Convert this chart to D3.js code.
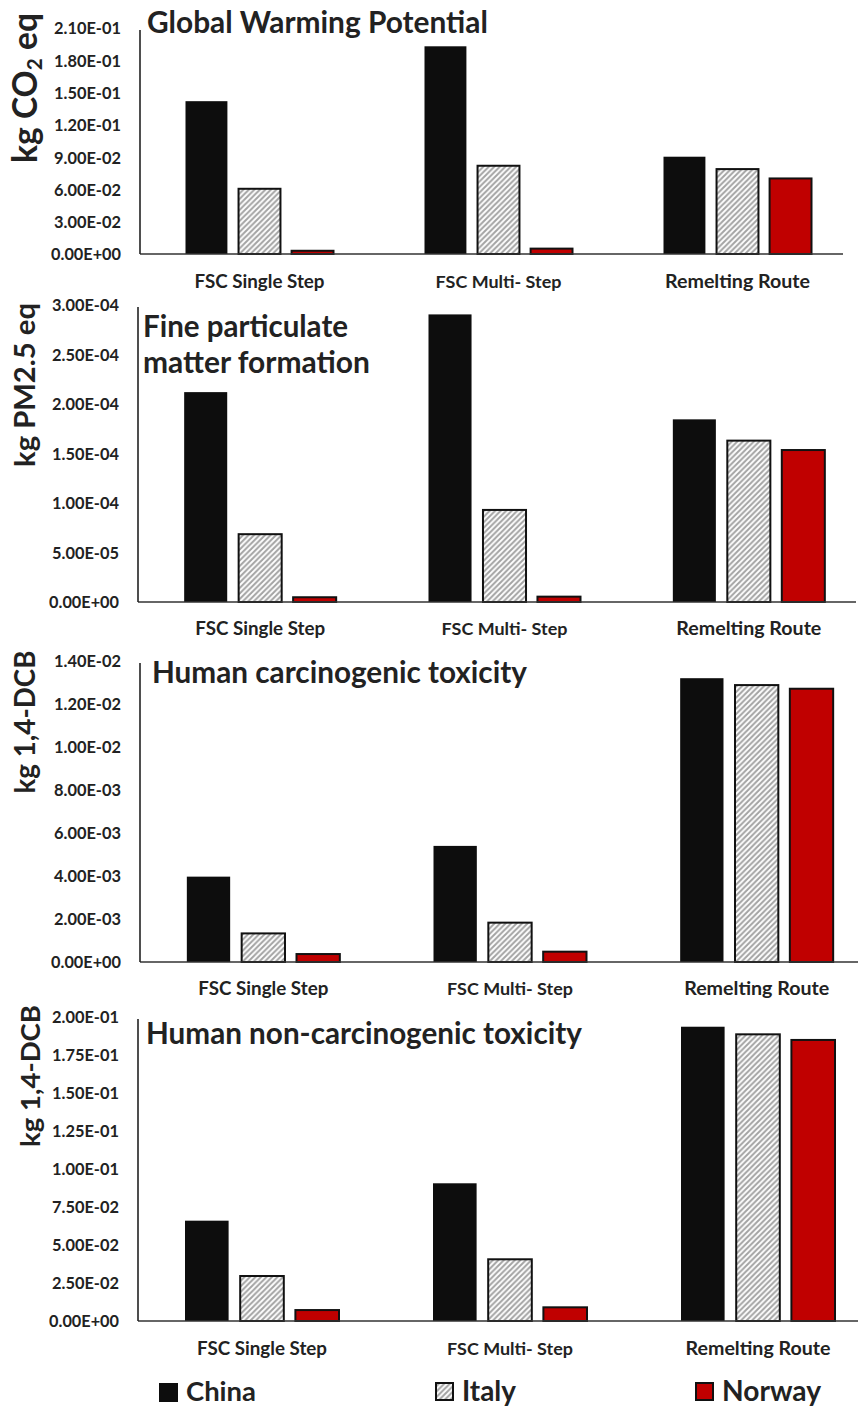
<!DOCTYPE html>
<html><head><meta charset="utf-8">
<script src="https://cdn.jsdelivr.net/npm/d3@7"></script>
<style>html,body{margin:0;padding:0;background:#fff;}svg{display:block;}</style>
</head><body>
<svg id="c" width="858" height="1408"></svg>
<script>
// ---------- data ----------
const categories = ["FSC Single Step", "FSC Multi- Step", "Remelting Route"];
const countries = ["China", "Italy", "Norway"];

const gwpChina  = [0.142, 0.193, 0.0904];
const gwpItaly  = [0.0606, 0.082, 0.0789];
const gwpNorway = [0.003, 0.005, 0.0702];
const gwpTicks  = [0, 0.03, 0.06, 0.09, 0.12, 0.15, 0.18, 0.21];

const pmChina  = [2.12e-4, 2.905e-4, 1.845e-4];
const pmItaly  = [6.85e-5, 9.3e-5, 1.63e-4];
const pmNorway = [4.8e-6, 5.4e-6, 1.535e-4];
const pmTicks  = [0, 5e-5, 1e-4, 1.5e-4, 2e-4, 2.5e-4, 3e-4];

const hctChina  = [3.97e-3, 5.4e-3, 1.32e-2];
const hctItaly  = [1.33e-3, 1.83e-3, 1.288e-2];
const hctNorway = [3.7e-4, 4.8e-4, 1.271e-2];
const hctTicks  = [0, 0.002, 0.004, 0.006, 0.008, 0.010, 0.012, 0.014];

const hnctChina  = [0.066, 0.0906, 0.1936];
const hnctItaly  = [0.0296, 0.0406, 0.1886];
const hnctNorway = [0.0072, 0.009, 0.1849];
const hnctTicks  = [0, 0.025, 0.05, 0.075, 0.1, 0.125, 0.15, 0.175, 0.2];

const titles = [["Global Warming Potential"], ["Fine particulate", "matter formation"],
                ["Human carcinogenic toxicity"], ["Human non-carcinogenic toxicity"]];
// ---------- layout ----------
const FONT = "Lato, Carlito, 'Open Sans', sans-serif";
const TXT = "#222";
const colors = {China: "#0d0d0d", Norway: "#c00000"};

const panels = [
  {vals: [gwpChina, gwpItaly, gwpNorway], ticks: gwpTicks, title: titles[0],
   left: 140, right: 857, lineEnd: 843, yTop: 28, yBase: 254, catY: 288, groupW: 148,
   tX: 147, tY: 33, tW: [341], yt: {x: 25, y: 88, w: 150, sub: true}},
  {vals: [pmChina, pmItaly, pmNorway], ticks: pmTicks, title: titles[1],
   left: 138, right: 871, lineEnd: 856, yTop: 305, yBase: 602, catY: 635, groupW: 152,
   tX: 143, tY: 337, tW: [205, 227], yt: {x: 25, y: 385, w: 164, text: "kg PM2.5 eq"}},
  {vals: [hctChina, hctItaly, hctNorway], ticks: hctTicks, title: titles[2],
   left: 140, right: 880, lineEnd: 858, yTop: 661, yBase: 962, catY: 995, groupW: 153,
   tX: 152, tY: 683, tW: [375], yt: {x: 25, y: 722, w: 143, text: "kg 1,4-DCB"}},
  {vals: [hnctChina, hnctItaly, hnctNorway], ticks: hnctTicks, title: titles[3],
   left: 138, right: 882, lineEnd: 858, yTop: 1017, yBase: 1321, catY: 1355, groupW: 154,
   tX: 146, tY: 1044, tW: [436], yt: {x: 30, y: 1076, w: 142, text: "kg 1,4-DCB"}}
];

const svg = d3.select("#c");
const defs = svg.append("defs");
const pat = defs.append("pattern").attr("id", "hatch").attr("patternUnits", "userSpaceOnUse")
  .attr("width", 5.5).attr("height", 5.5);
pat.append("rect").attr("width", 5.5).attr("height", 5.5).attr("fill", "#fff");
pat.append("path").attr("d", "M0,5.5 L5.5,0 M-1,1 L1,-1 M4.5,6.5 L6.5,4.5")
  .attr("stroke", "#a3a3a3").attr("stroke-width", 2);

function fit(sel, w) {
  const cur = sel.node().getComputedTextLength();
  const fs = parseFloat(sel.attr("font-size"));
  sel.attr("font-size", (fs * w / cur).toFixed(2));
}
function fmtE(v) {
  const s = v.toExponential(2).toUpperCase();
  const m = s.match(/^(.*)E([+-])(\d+)$/);
  return m[1] + "E" + m[2] + m[3].padStart(2, "0");
}
function fillFor(c) { return c === "Italy" ? "url(#hatch)" : colors[c]; }
function strokeFor(c) { return c === "China" ? "none" : "#111"; }

panels.forEach(p => {
  const g = svg.append("g");
  const y = d3.scaleLinear().domain([0, d3.max(p.ticks)]).range([p.yBase, p.yTop]);
  const step = (p.right - p.left) / 3;
  const x0 = d3.scaleBand().domain(categories).range([p.left, p.right])
    .paddingInner(1 - p.groupW / step).paddingOuter((1 - p.groupW / step) / 2);
  const x1 = d3.scaleBand().domain(countries).range([0, x0.bandwidth()]).paddingInner(0.21);

  // bars
  const rows = categories.map((cat, i) => ({cat, items: countries.map((c, j) => ({c, v: p.vals[j][i]}))}));
  const grp = g.selectAll("g.grp").data(rows).join("g").attr("transform", d => `translate(${x0(d.cat)},0)`);
  grp.selectAll("rect").data(d => d.items).join("rect")
    .attr("x", d => x1(d.c)).attr("width", x1.bandwidth())
    .attr("y", d => y(d.v)).attr("height", d => y(0) - y(d.v))
    .attr("fill", d => fillFor(d.c)).attr("stroke", d => strokeFor(d.c)).attr("stroke-width", 2);

  // axes lines
  g.append("line").attr("x1", p.left).attr("x2", p.lineEnd).attr("y1", p.yBase).attr("y2", p.yBase)
    .attr("stroke", "#333").attr("stroke-width", 1.6);
  g.append("line").attr("x1", p.left).attr("x2", p.left).attr("y1", p.yTop + 2).attr("y2", p.yBase)
    .attr("stroke", "#222").attr("stroke-width", 1.6);

  // y tick labels
  const yAxis = d3.axisLeft(y).tickValues(p.ticks).tickFormat(fmtE).tickSize(0).tickPadding(0);
  const ya = g.append("g").attr("transform", `translate(${p.left - 19},0)`).call(yAxis);
  ya.select(".domain").remove();
  ya.selectAll("text").attr("font-family", FONT).attr("font-weight", 700).attr("font-size", 14)
    .attr("fill", TXT).attr("dy", "0.36em")
    .each(function(d) { fit(d3.select(this), d === 0 ? 70 : 67); });

  // category labels
  const xAxis = d3.axisBottom(x0).tickSize(0).tickPadding(0);
  const xa = g.append("g").attr("transform", `translate(0,${p.catY})`).call(xAxis);
  xa.select(".domain").remove();
  xa.selectAll("text").attr("font-family", FONT).attr("font-weight", 700).attr("font-size", 15)
    .attr("fill", TXT).attr("dy", 0);
  xa.selectAll("text").each(function(d) {
    const w = d === "FSC Single Step" ? 130 : d === "FSC Multi- Step" ? 126 : 145;
    fit(d3.select(this), w);
  });

  // title
  p.title.forEach((t, i) => {
    const tt = g.append("text").attr("x", p.tX).attr("y", p.tY + i * 36).text(t)
      .attr("font-family", FONT).attr("font-weight", 700).attr("font-size", 26).attr("fill", TXT);
    fit(tt, p.tW[i]);
  });

  // y axis title
  const yt = g.append("text").attr("transform", `translate(${p.yt.x},${p.yt.y}) rotate(-90)`)
    .attr("text-anchor", "middle").attr("dy", "0.35em")
    .attr("font-family", FONT).attr("font-weight", 700).attr("font-size", 24).attr("fill", TXT);
  if (p.yt.sub) {
    yt.append("tspan").text("kg CO");
    yt.append("tspan").text("2").attr("font-size", "0.62em").attr("baseline-shift", "-25%");
    yt.append("tspan").text(" eq");
  } else yt.text(p.yt.text);
  fit(yt, p.yt.w);
});

// legend
const legendPos = [{x: 159, w: 70}, {x: 435, w: 54}, {x: 695, w: 99}];
const lg = svg.append("g").selectAll("g").data(countries).join("g")
  .attr("transform", (d, i) => `translate(${legendPos[i].x},1382)`);
lg.append("rect").attr("x", d => d === "China" ? 0 : 1).attr("y", 1)
  .attr("width", d => d === "China" ? 19 : 17).attr("height", d => d === "China" ? 19 : 17)
  .attr("fill", fillFor).attr("stroke", d => d === "China" ? "none" : "#111").attr("stroke-width", 2);
lg.append("text").attr("x", 27).attr("y", 19).text(d => d)
  .attr("font-family", FONT).attr("font-weight", 700).attr("font-size", 26).attr("fill", TXT)
  .each(function(d, i) { fit(d3.select(this), legendPos[i].w); });
</script>
</body></html>
